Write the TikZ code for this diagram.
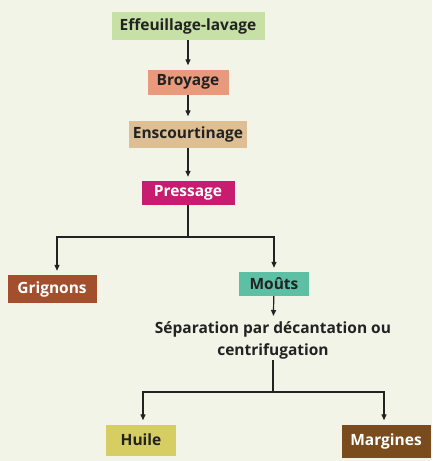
\documentclass[tikz,border=0pt]{standalone}
\usepackage{fontspec}
\setmainfont{Open Sans}
\usetikzlibrary{arrows.meta,positioning}

\definecolor{paper}{HTML}{F3F4E8}
\definecolor{leafgreen}{HTML}{C6E0A6}
\definecolor{salmon}{HTML}{E99A7D}
\definecolor{tan}{HTML}{DDBF93}
\definecolor{press}{HTML}{C71C6F}
\definecolor{rust}{HTML}{A34F2E}
\definecolor{teal}{HTML}{5DBFA3}
\definecolor{olive}{HTML}{D6CE62}
\definecolor{mud}{HTML}{7A4B1C}
\definecolor{ink}{HTML}{222222}

\begin{document}
\begin{tikzpicture}[
  x=1pt, y=-1pt,
  font=\bfseries\fontsize{15.5}{22}\selectfont,
  step box/.style={inner xsep=3pt, inner ysep=0pt, minimum height=26pt, text=ink},
  light/.style={step box, fill=#1},
  dark/.style={step box, fill=#1, text=white},
  to/.style={-{Triangle[length=6pt,width=5pt]}, shorten >=4pt, line width=1.2pt, draw=ink},
  link/.style={line width=1.2pt, draw=ink},
  every node/.style={align=center}]

  % background and page size
  \fill[paper] (0,0) rectangle (432,461);

  % Position the nodes
  \node[light=leafgreen, minimum width=153pt, minimum height=28pt] (effeuil) at (188,26) {Effeuillage-lavage};
  \node[light=salmon, minimum width=81pt, minimum height=25pt] (broyage) at (188,82) {Broyage};
  \node[light=tan, minimum width=118pt, minimum height=27pt] (enscourt) at (188,134) {Enscourtinage};
  \node[dark=press, minimum width=93pt, minimum height=24pt] (pressage) at (188,193) {Pressage};
  \node[dark=rust, minimum width=89pt, minimum height=28pt] (grignons) at (52,289) {Grignons};
  \node[light=teal, minimum width=70pt, minimum height=24pt] (mouts) at (274,284) {Moûts};
  \node[text=ink, inner sep=1pt] (separ) at (273,340) {Séparation par décantation ou\\centrifugation};
  \node[light=olive, minimum width=70pt, minimum height=31pt] (huile) at (141,440) {Huile};
  \node[dark=mud, minimum width=89pt, minimum height=33pt] (margines) at (386,441) {Margines};

  % Draw the arrows between the nodes
  \draw[to] (effeuil) -- (broyage);
  \draw[to] (broyage) -- (enscourt);
  \draw[to] (enscourt) -- (pressage);
  \draw[link] (pressage) -- (pressage |- 0,237) coordinate (split);
  \draw[to] (split) -| ([xshift=5pt]grignons.north);
  \draw[to] (split) -| (mouts.north);
  \draw[to] (mouts) -- (separ);
  \draw[link] (separ.south) -- (separ.south |- 0,392) coordinate (fork);
  \draw[to] (fork) -| ([xshift=2pt]huile.north);
  \draw[to] (fork) -| ([xshift=-2pt]margines.north);
\end{tikzpicture}
\end{document}
